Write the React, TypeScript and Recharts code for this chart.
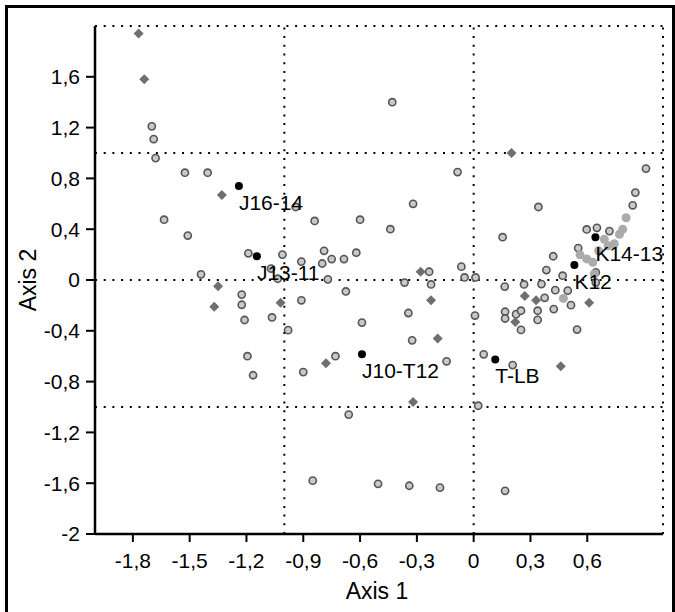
import React from 'react';
import { ScatterChart, Scatter, XAxis, YAxis, ReferenceLine } from 'recharts';

const FONT = 'Arial, "Liberation Sans", sans-serif';

const xTicks = [-1.8, -1.5, -1.2, -0.9, -0.6, -0.3, 0, 0.3, 0.6];
const yTicks = [-2, -1.6, -1.2, -0.8, -0.4, 0, 0.4, 0.8, 1.2, 1.6];

// dark grey filled markers
const darkPoints: [number, number][] = [
  [-1.77, 1.94], [-1.74, 1.58], [-1.33, 0.67], [-1.35, -0.05], [-1.37, -0.21],
  [-1.02, -0.18], [-0.28, 0.065], [-0.225, -0.16], [-0.19, -0.46], [-0.78, -0.655],
  [-0.32, -0.96], [0.2, 1.0], [0.27, -0.125], [0.33, -0.16], [0.61, -0.18],
  [0.22, -0.33], [0.46, -0.68],
];

// grey ring markers
const ringPoints: [number, number][] = [
  [-1.7, 1.21], [-1.69, 1.11], [-1.68, 0.96], [-1.525, 0.845], [-1.405, 0.845],
  [-1.635, 0.475], [-1.51, 0.35], [-1.19, 0.21], [-1.01, 0.2], [-1.44, 0.045],
  [-1.07, 0.09], [-1.035, 0.01], [-1.225, -0.115], [-1.225, -0.195], [-1.21, -0.315],
  [-1.065, -0.295], [-0.98, -0.395], [-1.195, -0.6], [-1.165, -0.75], [-0.91, -0.16],
  [-0.9, -0.725], [-0.73, -0.6], [-0.66, -1.06], [-0.85, -1.58],
  [-0.43, 1.4], [-0.085, 0.85], [-0.32, 0.6], [-0.94, 0.575], [-0.84, 0.465],
  [-0.6, 0.475], [-0.44, 0.4], [-0.79, 0.23], [-0.62, 0.215], [-0.91, 0.145],
  [-0.8, 0.13], [-0.75, 0.165], [-0.685, 0.165], [-0.77, 0.005], [-0.235, 0.065],
  [-0.065, 0.105], [-0.048, 0.02], [0.01, 0.02], [-0.365, -0.02], [-0.225, -0.035],
  [-0.675, -0.09], [-0.345, -0.26], [-0.59, -0.335], [-0.325, -0.475], [-0.143, -0.64],
  [0.007, -0.28], [0.053, -0.585], [0.206, -0.67], [0.024, -0.99],
  [-0.505, -1.605], [-0.34, -1.62], [-0.178, -1.635], [0.166, -1.66],
  [0.342, 0.575], [0.153, 0.337], [0.91, 0.877], [0.854, 0.688], [0.84, 0.588],
  [0.597, 0.398], [0.651, 0.411], [0.717, 0.385], [0.552, 0.251], [0.42, 0.187],
  [0.384, 0.078], [0.47, 0.034], [0.164, -0.052], [0.266, -0.035], [0.358, -0.032],
  [0.431, -0.08], [0.497, -0.084], [0.375, -0.14], [0.514, -0.198], [0.423, -0.229],
  [0.166, -0.25], [0.166, -0.303], [0.224, -0.269], [0.25, -0.242], [0.338, -0.242],
  [0.338, -0.314], [0.25, -0.393], [0.546, -0.39], [0.645, 0.06], [0.645, -0.02],
];

// light grey markers along the right-hand arc
const lightPoints: [number, number][] = [
  [0.805, 0.49], [0.787, 0.4], [0.77, 0.36], [0.69, 0.32], [0.743, 0.285],
  [0.562, 0.198], [0.597, 0.166], [0.629, 0.14], [0.474, -0.145], [0.637, 0.047],
  [0.66, 0.23], [0.71, 0.27],
];

// named samples
const labelNames = ['J16-14', 'J13-11', 'J10-T12', 'T-LB', 'K14-13', 'K12'];
const labelX = [-1.24, -1.145, -0.59, 0.114, 0.643, 0.532];
const labelY = [0.74, 0.187, -0.585, -0.625, 0.337, 0.119];

const toData = (pts: [number, number][]) => pts.map(([x, y]) => ({ x, y }));
const namedData = labelNames.map((name, i) => ({ name, x: labelX[i], y: labelY[i] }));

const fmt = (v: number) => String(v).replace('.', ',');
const dotted = { stroke: '#000', strokeWidth: 2, strokeDasharray: '2 6.7' };

const DarkShape = (p: any) => (
  <path
    d={`M${p.cx},${p.cy - 5}L${p.cx + 5},${p.cy}L${p.cx},${p.cy + 5}L${p.cx - 5},${p.cy}Z`}
    fill="#6f6f6f"
  />
);

const RingShape = (p: any) => (
  <circle cx={p.cx} cy={p.cy} r={3.6} fill="#c9c9c9" stroke="#555" strokeWidth={1.6} />
);

const LightShape = (p: any) => <circle cx={p.cx} cy={p.cy} r={4.5} fill="#ababab" />;

const NamedShape = (p: any) => (
  <g>
    <circle cx={p.cx} cy={p.cy} r={4} fill="#000" />
    <text x={p.cx} y={p.cy + 24} fontSize={21} fontFamily={FONT} fill="#000">
      {p.payload?.name}
    </text>
  </g>
);

export default function App() {
  return (
    <div style={{ position: 'absolute', left: 0, top: 0, width: 675, height: 612, overflow: 'hidden', background: '#fff' }}>
      <div
        style={{
          position: 'absolute', left: 5, top: 5, width: 670, height: 620, boxSizing: 'border-box',
          borderLeft: '3px solid #000', borderTop: '3px solid #000', borderRight: '3px solid #000',
        }}
      />
      <div style={{ position: 'absolute', left: 0, top: 0 }}>
        <ScatterChart width={675} height={612} margin={{ top: 26, right: 12, bottom: 8, left: 0 }}>
          <XAxis
            type="number"
            dataKey="x"
            domain={[-2, 1]}
            ticks={xTicks}
            tickFormatter={fmt}
            height={70}
            tickSize={8}
            tickMargin={11}
            axisLine={{ stroke: '#000', strokeWidth: 2.5 }}
            tickLine={{ stroke: '#000', strokeWidth: 2 }}
            tick={{ fill: '#000', fontSize: 21, fontFamily: FONT }}
            allowDataOverflow
          />
          <YAxis
            type="number"
            dataKey="y"
            domain={[-2, 2]}
            ticks={yTicks}
            tickFormatter={fmt}
            width={95}
            tickSize={9}
            tickMargin={6}
            axisLine={{ stroke: '#000', strokeWidth: 2.5 }}
            tickLine={{ stroke: '#000', strokeWidth: 2 }}
            tick={{ fill: '#000', fontSize: 21, fontFamily: FONT }}
            allowDataOverflow
          />
          <ReferenceLine x={-1} {...dotted} />
          <ReferenceLine x={0} {...dotted} />
          <ReferenceLine x={1} {...dotted} />
          <ReferenceLine y={-1} {...dotted} />
          <ReferenceLine y={0} {...dotted} />
          <ReferenceLine y={1} {...dotted} />
          <ReferenceLine y={2} {...dotted} />
          <Scatter data={toData(ringPoints)} shape={RingShape} isAnimationActive={false} />
          <Scatter data={toData(lightPoints)} shape={LightShape} isAnimationActive={false} />
          <Scatter data={toData(darkPoints)} shape={DarkShape} isAnimationActive={false} />
          <Scatter data={namedData} shape={NamedShape} isAnimationActive={false} />
        </ScatterChart>
      </div>
      <svg width={675} height={612} style={{ position: 'absolute', left: 0, top: 0, pointerEvents: 'none' }}>
        <text x={377} y={599} textAnchor="middle" fontSize={23} fontFamily={FONT} fill="#000">
          Axis 1
        </text>
        <text
          x={36}
          y={280}
          textAnchor="middle"
          fontSize={23}
          fontFamily={FONT}
          fill="#000"
          transform="rotate(-90, 36, 280)"
        >
          Axis 2
        </text>
      </svg>
    </div>
  );
}
